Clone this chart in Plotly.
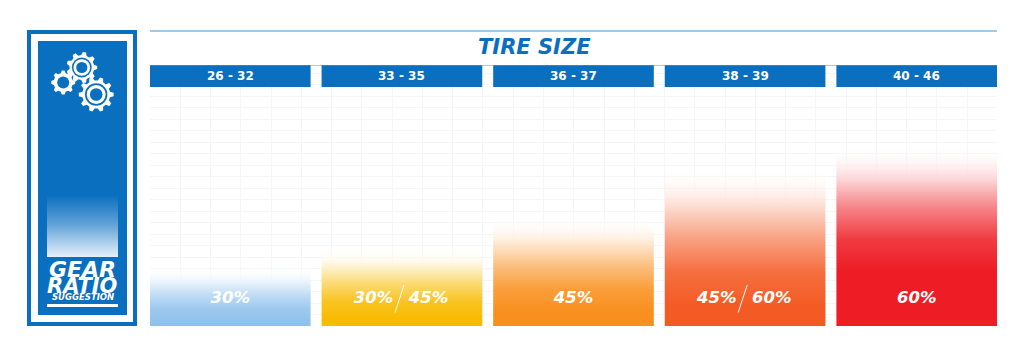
import math
import plotly.graph_objects as go

W, H = 1024, 356

# ---- data ----
tire_sizes = ["26 - 32", "33 - 35", "36 - 37", "38 - 39", "40 - 46"]
fade_heights = [25, 33, 46, 67, 76]
solid_share = [0.05, 0.08, 0.12, 0.12, 0.30]
left_labels = ["30%", "30%", "45%", "45%", "60%"]
right_labels = [None, "45%", None, "60%", None]
bottom_rgb = [(143, 193, 236), (248, 187, 0), (249, 143, 30), (244, 90, 35), (238, 28, 37)]

BLUE = "#0a6fbe"
LIGHT = "#9ccbec"
GRID = "#f6f6f8"
HALF = 0.468
FADE_CURVE = [(0.0, 1.0, 1), (0.25, 0.87, 1), (0.5, 0.55, 1), (0.72, 0.2, 1), (0.88, 0.06, 0.5), (1.0, 0.0, 0)]


def to_white(rgb, amount, alpha):
    """Blend a colour towards white; amount 1 keeps the colour, 0 gives white."""
    r, g, b = [round(255 + (c - 255) * amount) for c in rgb]
    return f"rgba({r},{g},{b},{alpha})"


fig = go.Figure()

# gradient columns, drawn through the data axes
for i, (h, rgb, hold) in enumerate(zip(fade_heights, bottom_rgb, solid_share)):
    scale = [[0, to_white(rgb, 1, 1)]]
    for pos, amount, alpha in FADE_CURVE:
        scale.append([hold + (1 - hold) * pos, to_white(rgb, amount, alpha)])
    fig.add_trace(go.Scatter(
        x=[i - HALF, i + HALF, i + HALF, i - HALF, i - HALF],
        y=[0, 0, h, h, 0],
        mode="lines", line=dict(width=0), fill="toself",
        fillgradient=dict(type="vertical", colorscale=scale),
        hoverinfo="skip", showlegend=False))

# percentage labels
single_x, single_t, pair_x, pair_t = [], [], [], []
for i, (l, r) in enumerate(zip(left_labels, right_labels)):
    if r is None:
        single_x.append(i); single_t.append(l)
    else:
        pair_x += [i - 0.165, i + 0.155]; pair_t += [l, r]
LABEL_FONT = dict(family="DejaVu Sans", size=16.5, color="white", weight="bold", style="italic")
fig.add_trace(go.Scatter(x=single_x + pair_x, y=[11.3] * (len(single_x) + len(pair_x)),
                         text=single_t + pair_t, mode="text", textfont=LABEL_FONT,
                         textposition="middle center", hoverinfo="skip", showlegend=False))

# header tabs and slashes tied to the category axis
shapes, annotations = [], []
for i, name in enumerate(tire_sizes):
    shapes.append(dict(type="rect", xref="x", yref="y", x0=i - HALF, x1=i + HALF,
                       y0=100.4, y1=109.6, fillcolor=BLUE, line_width=0, layer="above"))
    annotations.append(dict(x=i, y=105, xref="x", yref="y", text=f"<b>{name}</b>", showarrow=False,
                            font=dict(family="DejaVu Sans", size=12, color="white")))
    if right_labels[i] is not None:
        shapes.append(dict(type="line", xref="x", yref="y", x0=i - 0.04, x1=i + 0.012,
                           y0=5.7, y1=17.2, line=dict(color="white", width=1), layer="above"))


def gear(cx, cy, r, teeth):
    """SVG path of a toothed wheel in overlay (pixel) coordinates."""
    pts = []
    root = r * 0.8
    for k in range(teeth):
        a = 2 * math.pi * k / teeth
        s = 2 * math.pi / teeth
        for da, rad in [(-0.32, root), (-0.15, r), (0.15, r), (0.32, root)]:
            t = a + da * s
            pts.append((cx + rad * math.cos(t), cy + rad * math.sin(t)))
    return "M" + " L".join(f"{x:.2f},{y:.2f}" for x, y in pts) + " Z"


def px_rect(x0, y0, x1, y1, fill, line=None, lw=0, layer="below"):
    return dict(type="rect", xref="x2", yref="y2", x0=x0, y0=y0, x1=x1, y1=y1,
                fillcolor=fill, line=dict(color=line, width=lw) if line else dict(width=0), layer=layer)


def circle(cx, cy, r, fill):
    return dict(type="circle", xref="x2", yref="y2", x0=cx - r, x1=cx + r, y0=cy - r, y1=cy + r,
                fillcolor=fill, line_width=0, layer="above")


# left panel, in pixel overlay
shapes += [
    px_rect(29, 32, 135, 324, "white", BLUE, 4),
    px_rect(38, 41, 127, 315, BLUE),
    dict(type="line", xref="x2", yref="y2", x0=150, x1=997, y0=31, y1=31,
         line=dict(color=LIGHT, width=2)),
    dict(type="line", xref="x2", yref="y2", x0=150, x1=997, y0=65.5, y1=65.5,
         line=dict(color=LIGHT, width=1), layer="below"),
    px_rect(47, 304, 118, 307, "white"),
]
for cx, cy, r, teeth, full in [(81.8, 67.5, 15.5, 9, True), (63.2, 82.5, 12, 8, False), (96.2, 94.5, 17.5, 10, True)]:
    shapes.append(dict(type="path", xref="x2", yref="y2", path=gear(cx, cy, r, teeth),
                       fillcolor="white", line_width=0, layer="above"))
    if full:
        shapes += [circle(cx, cy, r * 0.64, BLUE), circle(cx, cy, r * 0.54, "white"), circle(cx, cy, r * 0.36, BLUE)]
    else:
        shapes.append(circle(cx, cy, r * 0.5, BLUE))

fig.add_trace(go.Scatter(x=[47, 118, 118, 47, 47], y=[195, 195, 257, 257, 195], xaxis="x2", yaxis="y2",
                         mode="lines", line=dict(width=0), fill="toself",
                         fillgradient=dict(type="vertical", colorscale=[[0, "#e6f0f9"], [0.55, "#5d9fd6"], [1, BLUE]]),
                         hoverinfo="skip", showlegend=False))


def px_text(x, y, text, size, color="white"):
    annotations.append(dict(x=x, y=y, xref="x2", yref="y2", text=text, showarrow=False,
                            font=dict(family="DejaVu Sans", size=size, color=color, weight="bold", style="italic")))


px_text(82.5, 269.5, "GEAR", 22)
px_text(82.5, 286, "RATIO", 21)
px_text(82.5, 297, "SUGGESTION", 8.5)
px_text(534.5, 47, "TIRE SIZE", 21, BLUE)

PB = 326
PXPV = 238 / 100
fig.update_layout(
    width=W, height=H, margin=dict(l=0, r=0, t=0, b=0, autoexpand=False), autosize=False,
    paper_bgcolor="white", plot_bgcolor="rgba(0,0,0,0)",
    showlegend=False, shapes=shapes, annotations=annotations,
    xaxis=dict(domain=[150 / W, 997 / W], range=[-HALF, 4 + HALF], tick0=-HALF, dtick=30.25 / 171.5,
               showgrid=True, gridcolor=GRID, gridwidth=1, showticklabels=False, ticks="", zeroline=False, showline=False),
    yaxis=dict(domain=[(H - PB) / H, (H - 65) / H], range=[0, (PB - 65) / PXPV], tick0=0, dtick=4.83,
               showgrid=True, gridcolor=GRID, gridwidth=1, showticklabels=False, ticks="", zeroline=False, showline=False),
    xaxis2=dict(domain=[0, 1], range=[0, W], visible=False, anchor="y2"),
    yaxis2=dict(domain=[0, 1], range=[H, 0], visible=False, anchor="x2"),
)
fig.write_html("out.html", config=dict(displayModeBar=False),
               post_script="document.body.style.margin='0';document.documentElement.style.overflow='hidden';")
